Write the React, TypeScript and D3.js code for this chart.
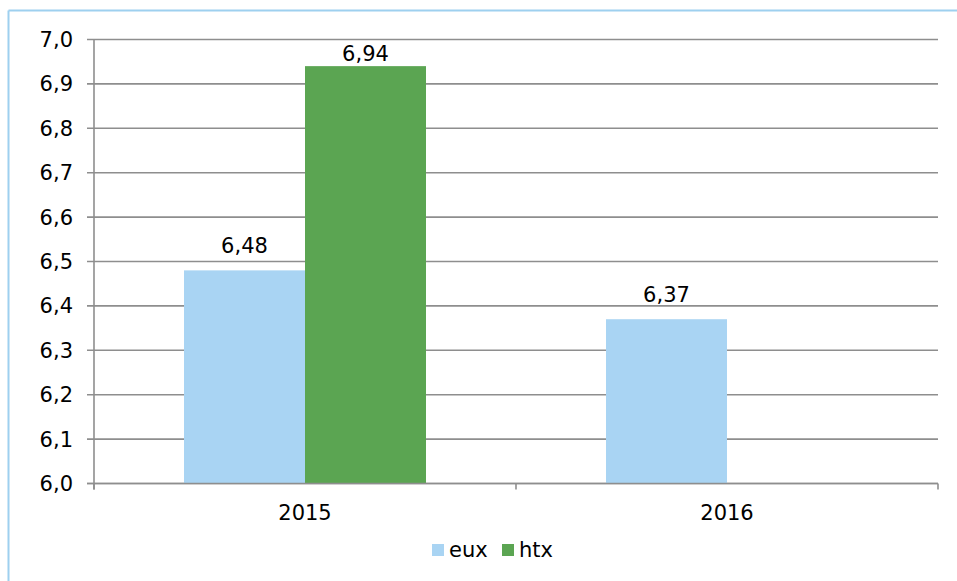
import React from "react";
import * as d3 from "d3";

const categories = ["2015", "2016"];
const seriesNames = ["eux", "htx"];
const euxValues: (number | null)[] = [6.48, 6.37];
const htxValues: (number | null)[] = [6.94, null];
const yTicks = [6.0, 6.1, 6.2, 6.3, 6.4, 6.5, 6.6, 6.7, 6.8, 6.9, 7.0];
const colors = ["#A9D4F3", "#5BA552"];

const W = 957;
const H = 581;
const plot = { left: 94, right: 938, top: 39.5, bottom: 483.5 };
const FONT = "'DejaVu Sans', Verdana, sans-serif";
const FS = 21;
const fmt = (v: number) => v.toFixed(2).replace(".", ",");
const fmt1 = (v: number) => v.toFixed(1).replace(".", ",");

export default function App() {
  const x = d3.scaleBand<string>().domain(categories).range([plot.left, plot.right]);
  const y = d3.scaleLinear().domain([6.0, 7.0]).range([plot.bottom, plot.top]);
  const inner = d3
    .scaleBand<string>()
    .domain(seriesNames)
    .range([0, 242])
    .paddingInner(0);
  const groupOffset = (x.bandwidth() - 242) / 2;
  const series = [euxValues, htxValues];
  const grid = "#8E8E8E";

  const bars: React.ReactNode[] = [];
  const labels: React.ReactNode[] = [];
  categories.forEach((c, ci) => {
    series.forEach((vals, si) => {
      const v = vals[ci];
      if (v == null) return;
      const bx = (x(c) as number) + groupOffset + (inner(seriesNames[si]) as number);
      const bw = inner.bandwidth();
      bars.push(
        <rect key={`b${ci}-${si}`} x={bx} y={y(v)} width={bw} height={plot.bottom - y(v)} fill={colors[si]} />
      );
      const ly = Math.max(y(v) - 17, plot.top + 21);
      labels.push(
        <text key={`l${ci}-${si}`} x={bx + bw / 2} y={ly} textAnchor="middle" fontSize={FS} fill="#000">
          {fmt(v)}
        </text>
      );
    });
  });

  const xTickPos = [plot.left, ...categories.slice(1).map((c) => x(c) as number), plot.right];

  return (
    <svg width={W} height={H} style={{ position: "absolute", left: 0, top: 0, fontFamily: FONT }}>
      <rect x={0} y={0} width={W} height={H} fill="#fff" />
      <line x1={8.5} x2={W} y1={10.5} y2={10.5} stroke="#9ED0EF" strokeWidth={2} />
      <line x1={8.5} x2={8.5} y1={10.5} y2={H} stroke="#9ED0EF" strokeWidth={2} />
      {yTicks.map((t) => (
        <g key={t}>
          <line x1={plot.left - 7} x2={plot.right} y1={y(t)} y2={y(t)} stroke={grid} strokeWidth={1.6} />
          <text x={73} y={y(t) + 7.5} textAnchor="end" fontSize={FS} fill="#000">
            {fmt1(t)}
          </text>
        </g>
      ))}
      {bars}
      <line x1={plot.left} x2={plot.left} y1={plot.top} y2={plot.bottom + 6} stroke={grid} strokeWidth={1.6} />
      <line x1={plot.left - 7} x2={plot.right} y1={plot.bottom} y2={plot.bottom} stroke={grid} strokeWidth={1.6} />
      {xTickPos.map((p, i) => (
        <line key={i} x1={p} x2={p} y1={plot.bottom} y2={plot.bottom + 6} stroke={grid} strokeWidth={1.6} />
      ))}
      {categories.map((c) => (
        <text key={c} x={(x(c) as number) + x.bandwidth() / 2} y={520} textAnchor="middle" fontSize={FS} fill="#000">
          {c}
        </text>
      ))}
      {labels}
      <g>
        <rect x={432} y={544} width={12} height={12} fill={colors[0]} />
        <text x={449} y={557} fontSize={FS} fill="#000">eux</text>
        <rect x={502} y={544} width={12} height={12} fill={colors[1]} />
        <text x={519} y={557} fontSize={FS} fill="#000">htx</text>
      </g>
    </svg>
  );
}
